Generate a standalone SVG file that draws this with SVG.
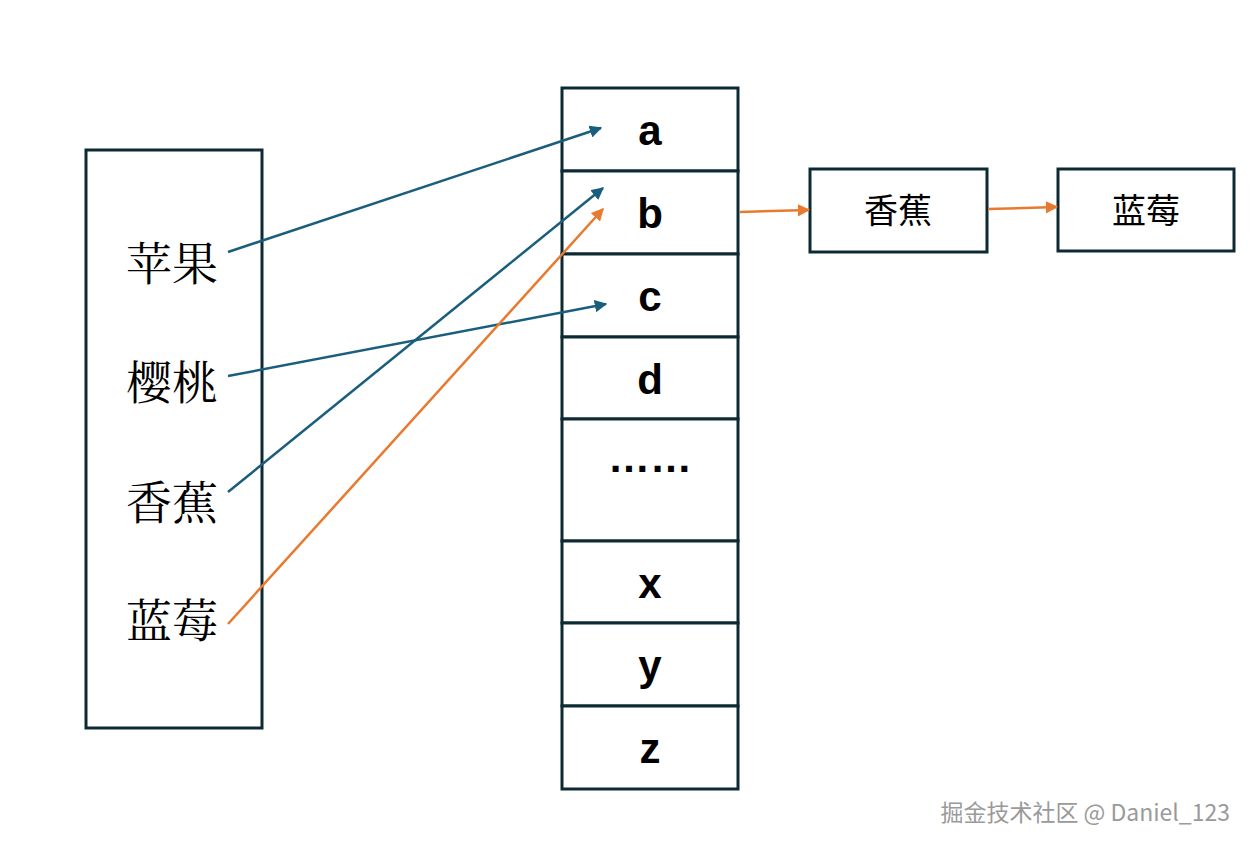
<svg xmlns="http://www.w3.org/2000/svg" width="1254" height="850" viewBox="0 0 1254 850">
<style>
.box{fill:#fff;stroke:#0d2a33;stroke-width:3}
.cn{font-family:"Liberation Serif","Noto Serif CJK SC","Noto Sans CJK SC",serif;font-size:46px;fill:#000}
.lt{font-family:"Liberation Sans",Arial,sans-serif;font-size:42px;font-weight:bold;fill:#000;text-anchor:middle}
.bx{font-family:"Noto Sans CJK SC",sans-serif;font-size:34px;fill:#000;text-anchor:middle}
.b{stroke:#1a5e7e;stroke-width:2.5;fill:none;marker-end:url(#mb)}
.o{stroke:#e87a30;stroke-width:2.5;fill:none;marker-end:url(#mo)}
</style>
<defs>
<marker id="mb" viewBox="0 0 10 10" refX="9" refY="5" markerWidth="5" markerHeight="5" orient="auto"><path d="M0,0L10,5L0,10z" fill="#1a5e7e"/></marker>
<marker id="mo" viewBox="0 0 10 10" refX="9" refY="5" markerWidth="5" markerHeight="5" orient="auto"><path d="M0,0L10,5L0,10z" fill="#e87a30"/></marker>
</defs>
<rect width="1254" height="850" fill="#fff"/>
<g id="left">
<rect class="box" x="86" y="150" width="176" height="578"/>
<text class="cn" x="126" y="280">苹果</text>
<text class="cn" x="126" y="399">樱桃</text>
<text class="cn" x="126" y="519">香蕉</text>
<text class="cn" x="126" y="637">蓝莓</text>
</g>
<g id="table">
<rect class="box" x="562" y="88" width="176" height="83"/><text class="lt" x="650" y="145">a</text>
<rect class="box" x="562" y="171" width="176" height="83"/><text class="lt" x="650" y="228">b</text>
<rect class="box" x="562" y="254" width="176" height="83"/><text class="lt" x="650" y="311">c</text>
<rect class="box" x="562" y="337" width="176" height="82"/><text class="lt" x="650" y="394">d</text>
<rect class="box" x="562" y="419" width="176" height="122"/><text class="lt" x="650" y="472">……</text>
<rect class="box" x="562" y="541" width="176" height="82"/><text class="lt" x="650" y="598">x</text>
<rect class="box" x="562" y="623" width="176" height="83"/><text class="lt" x="650" y="680">y</text>
<rect class="box" x="562" y="706" width="176" height="83"/><text class="lt" x="650" y="763">z</text>
</g>
<g id="n-banana"><rect class="box" x="810" y="169" width="177" height="83"/><text class="bx" x="898" y="223">香蕉</text></g>
<g id="n-blueberry"><rect class="box" x="1058" y="169" width="176" height="82"/><text class="bx" x="1146" y="223">蓝莓</text></g>
<g id="connectors">
<line class="b" x1="228" y1="252" x2="601" y2="128"/>
<line class="b" x1="228" y1="376" x2="606" y2="304"/>
<line class="b" x1="228" y1="492" x2="603" y2="188"/>
<line class="o" x1="228" y1="624" x2="603" y2="209"/>
<line class="o" x1="740" y1="212" x2="809" y2="210"/>
<line class="o" x1="988" y1="209" x2="1057" y2="207"/>
</g>
<text x="1230" y="821" text-anchor="end" font-family="'Noto Sans CJK SC',sans-serif" font-size="23" fill="#9a9a9a">掘金技术社区 @ Daniel_123</text>
</svg>
